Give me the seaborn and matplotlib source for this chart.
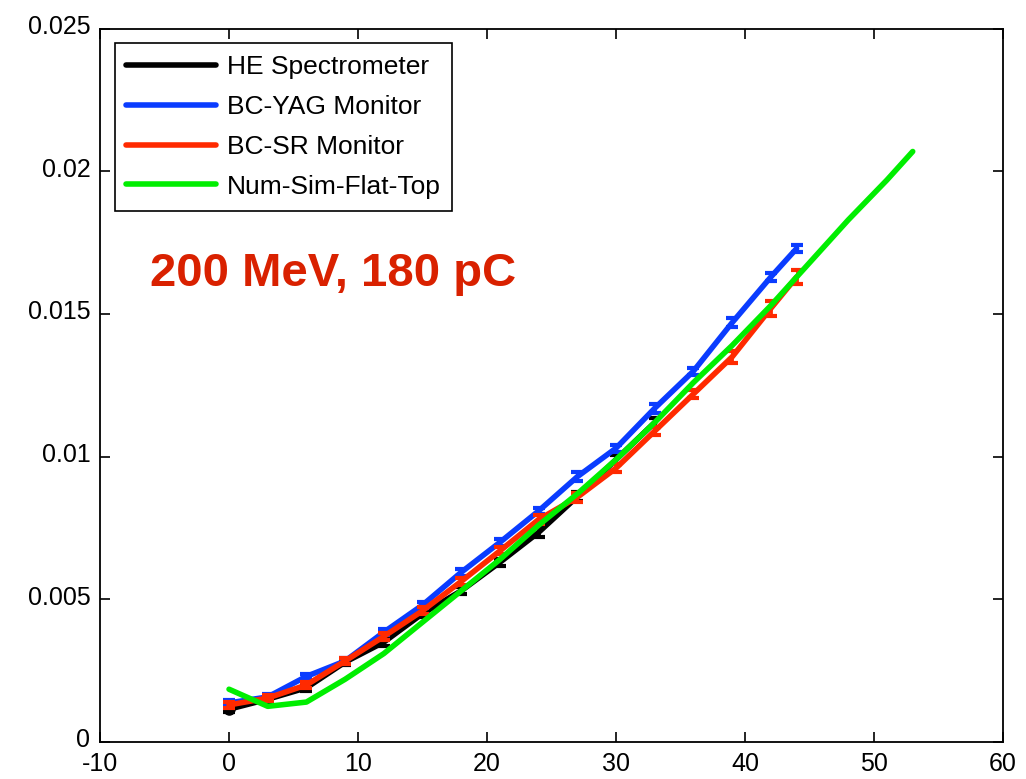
import matplotlib
matplotlib.use('Agg')
import matplotlib.pyplot as plt
import matplotlib.transforms as mtransforms
import seaborn as sns

# measured points (bunch compressor setting)
x_he = [0, 3, 6, 9, 12, 15, 18, 21, 24, 27, 30, 33]
y_he = [0.00115, 0.0015, 0.0019, 0.0028, 0.0035, 0.0045, 0.0053, 0.0063, 0.00735, 0.0086, 0.0099, 0.0112]
e_he = [0.0001, 0.0001, 0.0001, 0.0001, 0.00012, 0.00012, 0.00012, 0.00012, 0.00015, 0.00015, 0.00015, 0.00015]

x_bc = [0, 3, 6, 9, 12, 15, 18, 21, 24, 27, 30, 33, 36, 39, 42, 44]
y_yag = [0.00137, 0.00158, 0.0023, 0.00284, 0.00385, 0.0048, 0.00595, 0.0070, 0.0081, 0.0093,
         0.0103, 0.0117, 0.0130, 0.0147, 0.0163, 0.0173]
e_yag = [0.0001, 0.0001, 0.0001, 0.0001, 0.0001, 0.00012, 0.00012, 0.00012, 0.00012, 0.00015,
         0.00012, 0.00015, 0.00012, 0.00015, 0.00015, 0.00012]
y_sr = [0.0013, 0.00154, 0.0020, 0.00284, 0.0037, 0.0046, 0.00563, 0.0067, 0.0078, 0.00858,
        0.0096, 0.0109, 0.0122, 0.0135, 0.0152, 0.0163]
e_sr = [0.0001, 0.0001, 0.0001, 0.0001, 0.00012, 0.00012, 0.00012, 0.00012, 0.00015, 0.00015,
        0.00015, 0.00015, 0.00015, 0.0002, 0.00025, 0.00025]

# simulation
x_sim = [0, 3, 6, 9, 12, 15, 18, 21, 24, 27, 30, 33, 36, 39, 42, 45, 48, 51, 53]
y_sim = [0.00185, 0.00125, 0.0014, 0.0022, 0.0031, 0.0042, 0.0053, 0.0064, 0.0076, 0.0087,
         0.0099, 0.0112, 0.0126, 0.0139, 0.0153, 0.0168, 0.0183, 0.0197, 0.0207]

yticks = [0, 0.005, 0.01, 0.015, 0.02, 0.025]
ytick_labels = ['0', '0.005', '0.01', '0.015', '0.02', '0.025']
xticks = [-10, 0, 10, 20, 30, 40, 50, 60]

sns.set_style('ticks')
plt.rcParams['font.family'] = ['Liberation Sans', 'DejaVu Sans']
plt.rcParams['axes.unicode_minus'] = False

fig, ax = plt.subplots(figsize=(10.26, 7.79), dpi=100)
fig.subplots_adjust(left=0.0975, right=0.9776, bottom=0.0475, top=0.963)

lw = 4
cap = dict(fmt='none', elinewidth=2, capsize=4.5, capthick=3)

sns.lineplot(x=x_he, y=y_he, color='black', lw=lw, label='HE Spectrometer', ax=ax,
             solid_capstyle='round')
ax.errorbar(x_he, y_he, yerr=e_he, ecolor='black', **cap)
ax.plot(x_he[0], y_he[0], 'o', color='black', ms=8)

sns.lineplot(x=x_bc, y=y_yag, color='#0a3cff', lw=lw, label='BC-YAG Monitor', ax=ax,
             solid_capstyle='round')
ax.errorbar(x_bc, y_yag, yerr=e_yag, ecolor='#0a3cff', **cap)

sns.lineplot(x=x_bc, y=y_sr, color='#ff2a00', lw=lw, label='BC-SR Monitor', ax=ax,
             solid_capstyle='round')
ax.errorbar(x_bc, y_sr, yerr=e_sr, ecolor='#ff2a00', **cap)

sns.lineplot(x=x_sim, y=y_sim, color='#00ee00', lw=lw, label='Num-Sim-Flat-Top', ax=ax,
             solid_capstyle='round')

ax.set_xlim(-10, 60)
ax.set_ylim(0, 0.025)
ax.set_xticks(xticks)
ax.set_yticks(yticks)
ax.set_yticklabels(ytick_labels)
ax.set_xlabel('')
ax.set_ylabel('')
ax.tick_params(direction='in', top=True, right=True, length=7, width=1.2,
               labelsize=18, pad=7, labelcolor='black', color='black')
ax.tick_params(axis='x', pad=7)
for s in ax.spines.values():
    s.set_linewidth(1.3)
    s.set_color('black')

# MATLAB puts the y labels a touch above the tick
shift = mtransforms.ScaledTranslation(0, 3 / 72, fig.dpi_scale_trans)
for lab in ax.get_yticklabels():
    lab.set_transform(lab.get_transform() + shift)

ax.text(8.06, 0.0164, '200 MeV, 180 pC', color='#d92100', fontsize=34,
        fontweight='bold', ha='center', va='center')

leg = ax.legend(loc='upper left', fontsize=19, frameon=True, fancybox=False,
                edgecolor='black', framealpha=1, handlelength=3.4,
                borderaxespad=0.55, borderpad=0.45, labelspacing=0.6,
                handletextpad=0.4)
leg.get_frame().set_linewidth(1.2)
for t in leg.get_texts():
    t.set_color('black')

fig.savefig('out.png', dpi=100)
